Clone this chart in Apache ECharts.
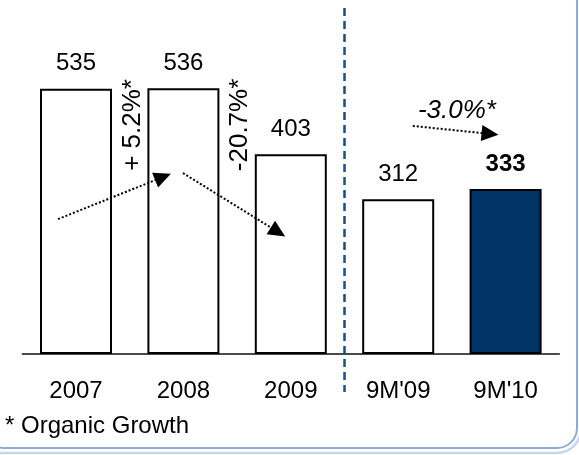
<!DOCTYPE html>
<html><head><meta charset="utf-8">
<script src="https://cdn.jsdelivr.net/npm/echarts@6/dist/echarts.min.js"></script>
<style>html,body{margin:0;padding:0;background:#fff}#c{width:579px;height:455px}</style>
</head><body><div id="c"></div>
<script>
// ---- data ----
const categories = ['2007', '2008', '2009', "9M'09", "9M'10"];
const values = [535, 536, 403, 312, 333];
const highlighted = [false, false, false, false, true];
const growthLabels = ['+ 5.2%*', '-20.7%*', '-3.0%*'];
const footnote = '* Organic Growth';

// ---- annotation anchors (category position, value) ----
const growthAnchors = [[0.531, 462], [1.527, 462], [3.547, 490]];
const arrowFrom = [[-0.167, 272], [0.996, 365], [3.136, 460]];
const arrowTo = [[0.81, 357], [1.881, 246], [3.855, 444]];
const dividerPos = 2.5;
const dividerRange = [698, -77];

const FONT = '"Liberation Sans", Arial, sans-serif';
const chart = echarts.init(document.getElementById('c'), null, { renderer: 'canvas' });

const barData = values.map((v, i) => ({
  value: v,
  itemStyle: { color: highlighted[i] ? '#003366' : '#ffffff' },
  label: highlighted[i] ? { fontWeight: 'bold' } : {}
}));

const arrowLines = arrowFrom.map((f, i) => [
  { coord: f, symbol: 'none' },
  { coord: arrowTo[i], symbol: 'triangle', symbolSize: [16, 17] }
]);
const dividerLine = [
  { coord: [dividerPos, dividerRange[0]], symbol: 'none',
    lineStyle: { color: '#1d4d7c', width: 2.5, type: [8, 5] } },
  { coord: [dividerPos, dividerRange[1]], symbol: 'none' }
];

const growthPoints = growthLabels.map((t, i) => ({
  coord: growthAnchors[i],
  value: t,
  label: {
    formatter: t,
    rotate: i < 2 ? 90 : 0,
    fontStyle: i < 2 ? 'normal' : 'italic'
  }
}));

chart.setOption({
  animation: false,
  backgroundColor: '#ffffff',
  grid: [
    { left: 22.3, right: 19.7, top: 7, bottom: 101, containLabel: false, outerBoundsMode: 'none' },
    { left: 22.3, right: 19.7, top: 7, bottom: 2, containLabel: false, outerBoundsMode: 'none' }
  ],
  xAxis: [
    {
      type: 'category',
      gridIndex: 0,
      data: categories,
      axisLine: { show: true, lineStyle: { color: '#111', width: 1.5 } },
      axisTick: { show: false },
      axisLabel: { fontSize: 24, color: '#000', fontFamily: FONT, margin: 25, interval: 0 },
      splitLine: { show: false }
    },
    { type: 'value', gridIndex: 1, min: -0.5, max: 4.5, show: false, splitLine: { show: false } }
  ],
  yAxis: [
    { type: 'value', gridIndex: 0, min: 0, max: 700, interval: 100, show: false, splitLine: { show: false } },
    { type: 'value', gridIndex: 1, min: -200, max: 700, interval: 100, show: false, splitLine: { show: false } }
  ],
  series: [
    {
      type: 'bar',
      xAxisIndex: 0,
      yAxisIndex: 0,
      data: barData,
      barWidth: 72,
      itemStyle: { borderColor: '#000', borderWidth: 2 },
      label: { show: true, position: 'top', distance: 13, fontSize: 24, color: '#000', fontFamily: FONT },
      silent: true
    },
    {
      type: 'line',
      xAxisIndex: 1,
      yAxisIndex: 1,
      data: [],
      silent: true,
      markLine: {
        silent: true,
        animation: false,
        label: { show: false },
        lineStyle: { color: '#000', width: 2, type: [2, 2] },
        itemStyle: { color: '#000' },
        emphasis: { disabled: true },
        data: arrowLines.concat([dividerLine])
      },
      markPoint: {
        silent: true,
        animation: false,
        symbol: 'rect',
        symbolSize: 0,
        label: { show: true, position: 'inside', fontSize: 26, color: '#000', fontFamily: FONT },
        data: growthPoints
      }
    }
  ],
  graphic: [
    { type: 'rect', silent: true, z: -1,
      shape: { x: -30, y: -30, width: 611, height: 483, r: 24 },
      style: { fill: 'none', stroke: '#c6d6ec', lineWidth: 2.5 } },
    { type: 'rect', silent: true, z: -1,
      shape: { x: -15, y: -30, width: 592, height: 478, r: 20 },
      style: { fill: 'none', stroke: '#8fabd4', lineWidth: 2 } },
    { type: 'text', silent: true, left: 5, top: 414,
      style: { text: footnote, font: '24px ' + FONT, fill: '#000' } }
  ]
});
</script></body></html>
